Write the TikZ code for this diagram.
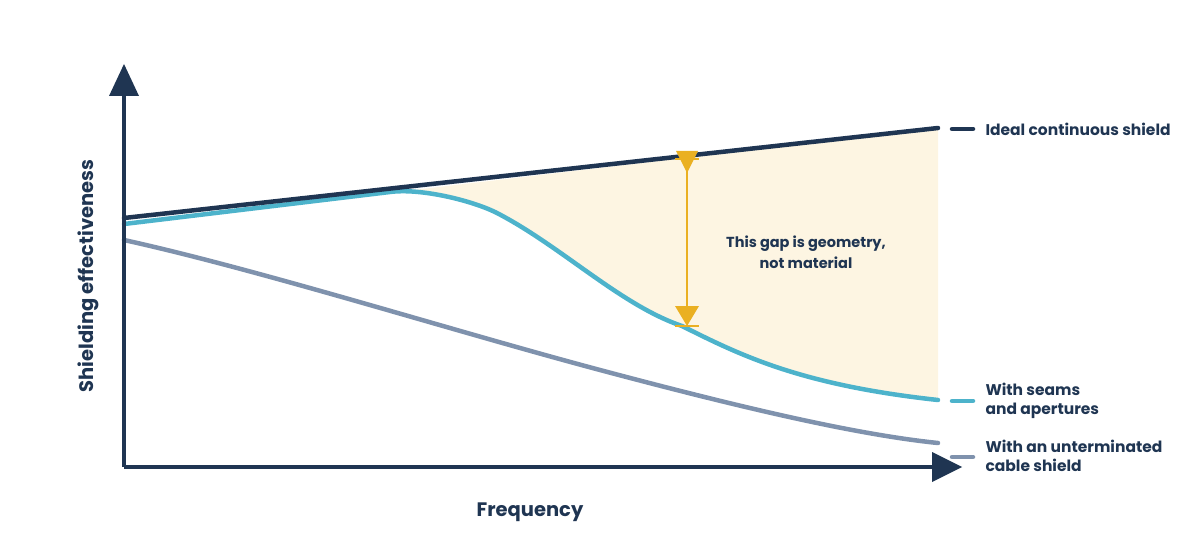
\documentclass[tikz,border=0pt]{standalone}
\usepackage{fontspec}
\setmainfont{Poppins}
\usetikzlibrary{arrows.meta}
\definecolor{navy}{HTML}{1F3552}
\definecolor{teal}{HTML}{4DB3CB}
\definecolor{slate}{HTML}{7F92AD}
\definecolor{cream}{HTML}{FDF5E2}
\definecolor{gold}{HTML}{EAB022}
\begin{document}
\begin{tikzpicture}[x=1pt,y=-1pt,
  lbl/.style={font=\bfseries\fontsize{15.5}{19}\selectfont,text=navy,align=left,anchor=west},
  curve/.style={line width=4.5pt,line cap=round}]
\useasboundingbox (0,0) rectangle (1200,556);
% fill
\fill[cream] (405,191) .. controls (420,190) and (470,200) .. (495,212)
  .. controls (560,245) and (620,305) .. (682,326)
  .. controls (740,355) and (800,385) .. (938,398) -- (938,128) -- (405,191) -- cycle;
% gray curve
\draw[curve,slate] (124,240) .. controls (260,270) and (450,330) .. (600,370)
  .. controls (750,410) and (860,435) .. (938,443);
% teal curve
\draw[curve,teal] (124,224) -- (390,192) .. controls (420,188) and (470,200) .. (495,212)
  .. controls (560,245) and (620,305) .. (682,326)
  .. controls (740,355) and (800,385) .. (938,400);
% navy curve
\draw[curve,navy] (124,218) -- (938,128);
% axes
\coordinate (o) at (124,467);
\coordinate (ytip) at (124,64);
\coordinate (xtip) at (962,467);
\draw[navy,line width=3.5pt] (o) -- (124,90);
\draw[navy,line width=3.5pt] (o) -- (936,467);
\fill[navy] (ytip) -- (109,96) -- (139,96) -- cycle;
\fill[navy] (xtip) -- (932,452) -- (932,482) -- cycle;
% gold arrow
\coordinate (gt) at (687,159);
\coordinate (gb) at (687,326);
\draw[gold,line width=2.5pt] (gt) -- (687,310);
\fill[gold] (676,151) -- (698,151) -- (687,173) -- cycle;
\draw[gold,line width=2pt] (675,159) -- (699,159);
\fill[gold] (675,306) -- (699,306) -- (687,326) -- cycle;
\draw[gold,line width=2pt] (675,326) -- (699,326);
% legend
\draw[navy,line width=4.5pt,line cap=round] (952,129) -- (973,129);
\draw[teal,line width=4.5pt,line cap=round] (952,401) -- (973,401);
\draw[slate,line width=4.5pt,line cap=round] (952,457) -- (973,457);
\node[lbl] (l1) at (982,129) {Ideal continuous shield};
\node[lbl] (l2) at (982,401) {With seams\\and apertures};
\node[lbl] (l3) at (982,456) {With an unterminated\\cable shield};
\node[font=\bfseries\fontsize{14.5}{21}\selectfont,text=navy,align=center] (gap) at (806,252) {This gap is geometry,\\not material};
\node[font=\bfseries\fontsize{19.5}{22}\selectfont,text=navy] (xl) at (530,512) {Frequency};
\node[font=\bfseries\fontsize{19.5}{22}\selectfont,text=navy,rotate=90] (yl) at (88,276) {Shielding effectiveness};
\end{tikzpicture}
\end{document}
